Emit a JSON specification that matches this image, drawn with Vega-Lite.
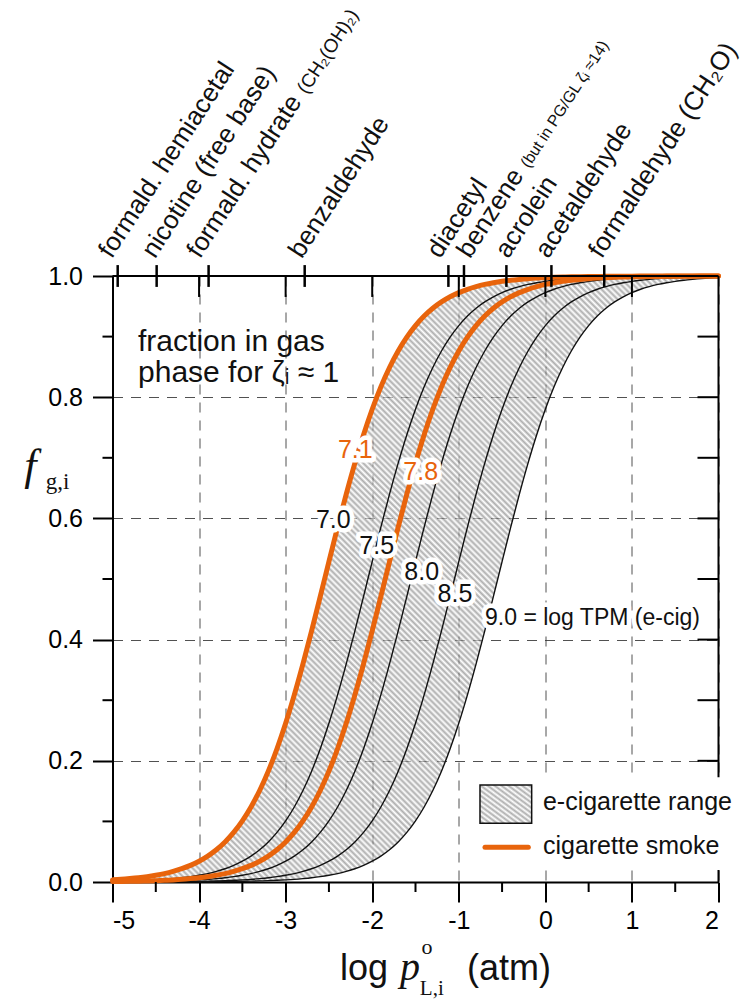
{
"$schema":"https://vega.github.io/schema/vega-lite/v6.json",
"width":606,"height":606,
"autosize":{"type":"none"},
"padding":{"left":112.5,"top":276,"right":36.5,"bottom":126},
"background":"white",
"config":{
 "font":"Liberation Sans",
 "view":{"stroke":null},
 "axis":{"domainColor":"#000","domainWidth":2,"tickColor":"#000","tickWidth":2,"labelColor":"#000","labelFontSize":25,"labelFont":"Liberation Sans","gridColor":"#333","gridDash":[10,8],"gridWidth":1,"gridOpacity":0.85}
},
"datasets":{
 "curves":[
{"x":-5,"c70":0.0035,"c75":0.0011,"c78":0.0007,"c80":0.0004,"c85":0.0001,"c90":0},
{"x":-4.9,"c70":0.0044,"c75":0.0014,"c78":0.0009,"c80":0.0004,"c85":0.0001,"c90":0},
{"x":-4.8,"c70":0.0056,"c75":0.0018,"c78":0.0011,"c80":0.0006,"c85":0.0002,"c90":0.0001},
{"x":-4.7,"c70":0.0070,"c75":0.0022,"c78":0.0014,"c80":0.0007,"c85":0.0002,"c90":0.0001},
{"x":-4.6,"c70":0.0088,"c75":0.0028,"c78":0.0018,"c80":0.0009,"c85":0.0003,"c90":0.0001},
{"x":-4.5,"c70":0.0111,"c75":0.0035,"c78":0.0022,"c80":0.0011,"c85":0.0004,"c90":0.0001},
{"x":-4.4,"c70":0.0139,"c75":0.0044,"c78":0.0028,"c80":0.0014,"c85":0.0004,"c90":0.0001},
{"x":-4.3,"c70":0.0175,"c75":0.0056,"c78":0.0035,"c80":0.0018,"c85":0.0006,"c90":0.0002},
{"x":-4.2,"c70":0.0219,"c75":0.0070,"c78":0.0044,"c80":0.0022,"c85":0.0007,"c90":0.0002},
{"x":-4.1,"c70":0.0274,"c75":0.0088,"c78":0.0056,"c80":0.0028,"c85":0.0009,"c90":0.0003},
{"x":-4.0,"c70":0.0343,"c75":0.0111,"c78":0.0070,"c80":0.0035,"c85":0.0011,"c90":0.0004},
{"x":-3.9,"c70":0.0428,"c75":0.0139,"c78":0.0088,"c80":0.0044,"c85":0.0014,"c90":0.0004},
{"x":-3.8,"c70":0.0532,"c75":0.0175,"c78":0.0111,"c80":0.0056,"c85":0.0018,"c90":0.0006},
{"x":-3.7,"c70":0.0661,"c75":0.0219,"c78":0.0139,"c80":0.0070,"c85":0.0022,"c90":0.0007},
{"x":-3.6,"c70":0.0818,"c75":0.0274,"c78":0.0175,"c80":0.0088,"c85":0.0028,"c90":0.0009},
{"x":-3.5,"c70":0.1009,"c75":0.0343,"c78":0.0219,"c80":0.0111,"c85":0.0035,"c90":0.0011},
{"x":-3.4,"c70":0.1238,"c75":0.0428,"c78":0.0274,"c80":0.0139,"c85":0.0044,"c90":0.0014},
{"x":-3.3,"c70":0.1510,"c75":0.0532,"c78":0.0343,"c80":0.0175,"c85":0.0056,"c90":0.0018},
{"x":-3.2,"c70":0.1829,"c75":0.0661,"c78":0.0428,"c80":0.0219,"c85":0.0070,"c90":0.0022},
{"x":-3.1,"c70":0.2199,"c75":0.0818,"c78":0.0532,"c80":0.0274,"c85":0.0088,"c90":0.0028},
{"x":-3.0,"c70":0.2619,"c75":0.1009,"c78":0.0661,"c80":0.0343,"c85":0.0111,"c90":0.0035},
{"x":-2.9,"c70":0.3088,"c75":0.1238,"c78":0.0818,"c80":0.0428,"c85":0.0139,"c90":0.0044},
{"x":-2.8,"c70":0.3599,"c75":0.1510,"c78":0.1009,"c80":0.0532,"c85":0.0175,"c90":0.0056},
{"x":-2.7,"c70":0.4145,"c75":0.1829,"c78":0.1238,"c80":0.0661,"c85":0.0219,"c90":0.0070},
{"x":-2.6,"c70":0.4712,"c75":0.2199,"c78":0.1510,"c80":0.0818,"c85":0.0274,"c90":0.0088},
{"x":-2.5,"c70":0.5288,"c75":0.2619,"c78":0.1829,"c80":0.1009,"c85":0.0343,"c90":0.0111},
{"x":-2.4,"c70":0.5855,"c75":0.3088,"c78":0.2199,"c80":0.1238,"c85":0.0428,"c90":0.0139},
{"x":-2.3,"c70":0.6401,"c75":0.3599,"c78":0.2619,"c80":0.1510,"c85":0.0532,"c90":0.0175},
{"x":-2.2,"c70":0.6912,"c75":0.4145,"c78":0.3088,"c80":0.1829,"c85":0.0661,"c90":0.0219},
{"x":-2.1,"c70":0.7381,"c75":0.4712,"c78":0.3599,"c80":0.2199,"c85":0.0818,"c90":0.0274},
{"x":-2.0,"c70":0.7801,"c75":0.5288,"c78":0.4145,"c80":0.2619,"c85":0.1009,"c90":0.0343},
{"x":-1.9,"c70":0.8171,"c75":0.5855,"c78":0.4712,"c80":0.3088,"c85":0.1238,"c90":0.0428},
{"x":-1.8,"c70":0.8490,"c75":0.6401,"c78":0.5288,"c80":0.3599,"c85":0.1510,"c90":0.0532},
{"x":-1.7,"c70":0.8762,"c75":0.6912,"c78":0.5855,"c80":0.4145,"c85":0.1829,"c90":0.0661},
{"x":-1.6,"c70":0.8991,"c75":0.7381,"c78":0.6401,"c80":0.4712,"c85":0.2199,"c90":0.0818},
{"x":-1.5,"c70":0.9182,"c75":0.7801,"c78":0.6912,"c80":0.5288,"c85":0.2619,"c90":0.1009},
{"x":-1.4,"c70":0.9339,"c75":0.8171,"c78":0.7381,"c80":0.5855,"c85":0.3088,"c90":0.1238},
{"x":-1.3,"c70":0.9468,"c75":0.8490,"c78":0.7801,"c80":0.6401,"c85":0.3599,"c90":0.1510},
{"x":-1.2,"c70":0.9572,"c75":0.8762,"c78":0.8171,"c80":0.6912,"c85":0.4145,"c90":0.1829},
{"x":-1.1,"c70":0.9657,"c75":0.8991,"c78":0.8490,"c80":0.7381,"c85":0.4712,"c90":0.2199},
{"x":-1.0,"c70":0.9726,"c75":0.9182,"c78":0.8762,"c80":0.7801,"c85":0.5288,"c90":0.2619},
{"x":-0.9,"c70":0.9781,"c75":0.9339,"c78":0.8991,"c80":0.8171,"c85":0.5855,"c90":0.3088},
{"x":-0.8,"c70":0.9825,"c75":0.9468,"c78":0.9182,"c80":0.8490,"c85":0.6401,"c90":0.3599},
{"x":-0.7,"c70":0.9861,"c75":0.9572,"c78":0.9339,"c80":0.8762,"c85":0.6912,"c90":0.4145},
{"x":-0.6,"c70":0.9889,"c75":0.9657,"c78":0.9468,"c80":0.8991,"c85":0.7381,"c90":0.4712},
{"x":-0.5,"c70":0.9912,"c75":0.9726,"c78":0.9572,"c80":0.9182,"c85":0.7801,"c90":0.5288},
{"x":-0.4,"c70":0.9930,"c75":0.9781,"c78":0.9657,"c80":0.9339,"c85":0.8171,"c90":0.5855},
{"x":-0.3,"c70":0.9944,"c75":0.9825,"c78":0.9726,"c80":0.9468,"c85":0.8490,"c90":0.6401},
{"x":-0.2,"c70":0.9956,"c75":0.9861,"c78":0.9781,"c80":0.9572,"c85":0.8762,"c90":0.6912},
{"x":-0.1,"c70":0.9965,"c75":0.9889,"c78":0.9825,"c80":0.9657,"c85":0.8991,"c90":0.7381},
{"x":0.0,"c70":0.9972,"c75":0.9912,"c78":0.9861,"c80":0.9726,"c85":0.9182,"c90":0.7801},
{"x":0.1,"c70":0.9978,"c75":0.9930,"c78":0.9889,"c80":0.9781,"c85":0.9339,"c90":0.8171},
{"x":0.2,"c70":0.9982,"c75":0.9944,"c78":0.9912,"c80":0.9825,"c85":0.9468,"c90":0.8490},
{"x":0.3,"c70":0.9986,"c75":0.9956,"c78":0.9930,"c80":0.9861,"c85":0.9572,"c90":0.8762},
{"x":0.4,"c70":0.9989,"c75":0.9965,"c78":0.9944,"c80":0.9889,"c85":0.9657,"c90":0.8991},
{"x":0.5,"c70":0.9991,"c75":0.9972,"c78":0.9956,"c80":0.9912,"c85":0.9726,"c90":0.9182},
{"x":0.6,"c70":0.9993,"c75":0.9978,"c78":0.9965,"c80":0.9930,"c85":0.9781,"c90":0.9339},
{"x":0.7,"c70":0.9994,"c75":0.9982,"c78":0.9972,"c80":0.9944,"c85":0.9825,"c90":0.9468},
{"x":0.8,"c70":0.9996,"c75":0.9986,"c78":0.9978,"c80":0.9956,"c85":0.9861,"c90":0.9572},
{"x":0.9,"c70":0.9996,"c75":0.9989,"c78":0.9982,"c80":0.9965,"c85":0.9889,"c90":0.9657},
{"x":1.0,"c70":0.9997,"c75":0.9991,"c78":0.9986,"c80":0.9972,"c85":0.9912,"c90":0.9726},
{"x":1.1,"c70":0.9998,"c75":0.9993,"c78":0.9989,"c80":0.9978,"c85":0.9930,"c90":0.9781},
{"x":1.2,"c70":0.9998,"c75":0.9994,"c78":0.9991,"c80":0.9982,"c85":0.9944,"c90":0.9825},
{"x":1.3,"c70":0.9999,"c75":0.9996,"c78":0.9993,"c80":0.9986,"c85":0.9956,"c90":0.9861},
{"x":1.4,"c70":0.9999,"c75":0.9996,"c78":0.9994,"c80":0.9989,"c85":0.9965,"c90":0.9889},
{"x":1.5,"c70":0.9999,"c75":0.9997,"c78":0.9996,"c80":0.9991,"c85":0.9972,"c90":0.9912},
{"x":1.6,"c70":0.9999,"c75":0.9998,"c78":0.9996,"c80":0.9993,"c85":0.9978,"c90":0.9930},
{"x":1.7,"c70":0.9999,"c75":0.9998,"c78":0.9997,"c80":0.9994,"c85":0.9982,"c90":0.9944},
{"x":1.8,"c70":1,"c75":0.9999,"c78":0.9998,"c80":0.9996,"c85":0.9986,"c90":0.9956},
{"x":1.9,"c70":1,"c75":0.9999,"c78":0.9998,"c80":0.9996,"c85":0.9989,"c90":0.9965},
{"x":2.0,"c70":1,"c75":0.9999,"c78":0.9999,"c80":0.9997,"c85":0.9991,"c90":0.9972}
 ],
 "curveLabels":[
  {"x":-2.195,"y":0.7125,"label":"7.1","source":"cigarette"},
  {"x":-1.44,"y":0.6767,"label":"7.8","source":"cigarette"},
  {"x":-2.449,"y":0.597,"label":"7.0","source":"e-cigarette"},
  {"x":-1.948,"y":0.5547,"label":"7.5","source":"e-cigarette"},
  {"x":-1.428,"y":0.5118,"label":"8.0","source":"e-cigarette"},
  {"x":-1.044,"y":0.475,"label":"8.5","source":"e-cigarette"}
 ],
 "compounds":[
  {"x":-4.94,"lx":-4.969,"name":"formald. hemiacetal"},
  {"x":-4.49,"lx":-4.469,"name":"nicotine (free base)"},
  {"x":-3.89,"lx":-3.949,"name":"formald. hydrate"},
  {"x":-2.78,"lx":-2.774,"name":"benzaldehyde"},
  {"x":-1.12,"lx":-1.176,"name":"diacetyl"},
  {"x":-0.94,"lx":-0.83,"name":"benzene"},
  {"x":-0.45,"lx":-0.388,"name":"acrolein"},
  {"x":0.07,"lx":0.075,"name":"acetaldehyde"},
  {"x":0.68,"lx":0.691,"name":"formaldehyde (CH₂O)"}
 ],
 "xMinor":[{"v":-4.5},{"v":-3.5},{"v":-2.5},{"v":-1.5},{"v":-0.5},{"v":0.5},{"v":1.5}],
 "xInner":[{"v":-4},{"v":-3},{"v":-2},{"v":-1},{"v":0},{"v":1}],
 "yMinor":[{"v":0.1},{"v":0.3},{"v":0.5},{"v":0.7},{"v":0.9}],
 "yRight":[{"v":0.1},{"v":0.2},{"v":0.3},{"v":0.4},{"v":0.5},{"v":0.6},{"v":0.7},{"v":0.8},{"v":0.9}]
},
"layer":[
 {"data":{"name":"curves"},
  "mark":{"type":"area","opacity":0.6,"interpolate":"monotone",
   "color":{"gradient":"linear","x1":0,"y1":1,"x2":1,"y2":0,"stops":[
{"offset":0,"color":"#fff"},{"offset":0.0025,"color":"#777"},{"offset":0.005,"color":"#fff"},{"offset":0.0075,"color":"#777"},
{"offset":0.01,"color":"#fff"},{"offset":0.0125,"color":"#777"},{"offset":0.015,"color":"#fff"},{"offset":0.0175,"color":"#777"},
{"offset":0.02,"color":"#fff"},{"offset":0.0225,"color":"#777"},{"offset":0.025,"color":"#fff"},{"offset":0.0275,"color":"#777"},
{"offset":0.03,"color":"#fff"},{"offset":0.0325,"color":"#777"},{"offset":0.035,"color":"#fff"},{"offset":0.0375,"color":"#777"},
{"offset":0.04,"color":"#fff"},{"offset":0.0425,"color":"#777"},{"offset":0.045,"color":"#fff"},{"offset":0.0475,"color":"#777"},
{"offset":0.05,"color":"#fff"},{"offset":0.0525,"color":"#777"},{"offset":0.055,"color":"#fff"},{"offset":0.0575,"color":"#777"},
{"offset":0.06,"color":"#fff"},{"offset":0.0625,"color":"#777"},{"offset":0.065,"color":"#fff"},{"offset":0.0675,"color":"#777"},
{"offset":0.07,"color":"#fff"},{"offset":0.0725,"color":"#777"},{"offset":0.075,"color":"#fff"},{"offset":0.0775,"color":"#777"},
{"offset":0.08,"color":"#fff"},{"offset":0.0825,"color":"#777"},{"offset":0.085,"color":"#fff"},{"offset":0.0875,"color":"#777"},
{"offset":0.09,"color":"#fff"},{"offset":0.0925,"color":"#777"},{"offset":0.095,"color":"#fff"},{"offset":0.0975,"color":"#777"},
{"offset":0.1,"color":"#fff"},{"offset":0.1025,"color":"#777"},{"offset":0.105,"color":"#fff"},{"offset":0.1075,"color":"#777"},
{"offset":0.11,"color":"#fff"},{"offset":0.1125,"color":"#777"},{"offset":0.115,"color":"#fff"},{"offset":0.1175,"color":"#777"},
{"offset":0.12,"color":"#fff"},{"offset":0.1225,"color":"#777"},{"offset":0.125,"color":"#fff"},{"offset":0.1275,"color":"#777"},
{"offset":0.13,"color":"#fff"},{"offset":0.1325,"color":"#777"},{"offset":0.135,"color":"#fff"},{"offset":0.1375,"color":"#777"},
{"offset":0.14,"color":"#fff"},{"offset":0.1425,"color":"#777"},{"offset":0.145,"color":"#fff"},{"offset":0.1475,"color":"#777"},
{"offset":0.15,"color":"#fff"},{"offset":0.1525,"color":"#777"},{"offset":0.155,"color":"#fff"},{"offset":0.1575,"color":"#777"},
{"offset":0.16,"color":"#fff"},{"offset":0.1625,"color":"#777"},{"offset":0.165,"color":"#fff"},{"offset":0.1675,"color":"#777"},
{"offset":0.17,"color":"#fff"},{"offset":0.1725,"color":"#777"},{"offset":0.175,"color":"#fff"},{"offset":0.1775,"color":"#777"},
{"offset":0.18,"color":"#fff"},{"offset":0.1825,"color":"#777"},{"offset":0.185,"color":"#fff"},{"offset":0.1875,"color":"#777"},
{"offset":0.19,"color":"#fff"},{"offset":0.1925,"color":"#777"},{"offset":0.195,"color":"#fff"},{"offset":0.1975,"color":"#777"},
{"offset":0.2,"color":"#fff"},{"offset":0.2025,"color":"#777"},{"offset":0.205,"color":"#fff"},{"offset":0.2075,"color":"#777"},
{"offset":0.21,"color":"#fff"},{"offset":0.2125,"color":"#777"},{"offset":0.215,"color":"#fff"},{"offset":0.2175,"color":"#777"},
{"offset":0.22,"color":"#fff"},{"offset":0.2225,"color":"#777"},{"offset":0.225,"color":"#fff"},{"offset":0.2275,"color":"#777"},
{"offset":0.23,"color":"#fff"},{"offset":0.2325,"color":"#777"},{"offset":0.235,"color":"#fff"},{"offset":0.2375,"color":"#777"},
{"offset":0.24,"color":"#fff"},{"offset":0.2425,"color":"#777"},{"offset":0.245,"color":"#fff"},{"offset":0.2475,"color":"#777"},
{"offset":0.25,"color":"#fff"},{"offset":0.2525,"color":"#777"},{"offset":0.255,"color":"#fff"},{"offset":0.2575,"color":"#777"},
{"offset":0.26,"color":"#fff"},{"offset":0.2625,"color":"#777"},{"offset":0.265,"color":"#fff"},{"offset":0.2675,"color":"#777"},
{"offset":0.27,"color":"#fff"},{"offset":0.2725,"color":"#777"},{"offset":0.275,"color":"#fff"},{"offset":0.2775,"color":"#777"},
{"offset":0.28,"color":"#fff"},{"offset":0.2825,"color":"#777"},{"offset":0.285,"color":"#fff"},{"offset":0.2875,"color":"#777"},
{"offset":0.29,"color":"#fff"},{"offset":0.2925,"color":"#777"},{"offset":0.295,"color":"#fff"},{"offset":0.2975,"color":"#777"},
{"offset":0.3,"color":"#fff"},{"offset":0.3025,"color":"#777"},{"offset":0.305,"color":"#fff"},{"offset":0.3075,"color":"#777"},
{"offset":0.31,"color":"#fff"},{"offset":0.3125,"color":"#777"},{"offset":0.315,"color":"#fff"},{"offset":0.3175,"color":"#777"},
{"offset":0.32,"color":"#fff"},{"offset":0.3225,"color":"#777"},{"offset":0.325,"color":"#fff"},{"offset":0.3275,"color":"#777"},
{"offset":0.33,"color":"#fff"},{"offset":0.3325,"color":"#777"},{"offset":0.335,"color":"#fff"},{"offset":0.3375,"color":"#777"},
{"offset":0.34,"color":"#fff"},{"offset":0.3425,"color":"#777"},{"offset":0.345,"color":"#fff"},{"offset":0.3475,"color":"#777"},
{"offset":0.35,"color":"#fff"},{"offset":0.3525,"color":"#777"},{"offset":0.355,"color":"#fff"},{"offset":0.3575,"color":"#777"},
{"offset":0.36,"color":"#fff"},{"offset":0.3625,"color":"#777"},{"offset":0.365,"color":"#fff"},{"offset":0.3675,"color":"#777"},
{"offset":0.37,"color":"#fff"},{"offset":0.3725,"color":"#777"},{"offset":0.375,"color":"#fff"},{"offset":0.3775,"color":"#777"},
{"offset":0.38,"color":"#fff"},{"offset":0.3825,"color":"#777"},{"offset":0.385,"color":"#fff"},{"offset":0.3875,"color":"#777"},
{"offset":0.39,"color":"#fff"},{"offset":0.3925,"color":"#777"},{"offset":0.395,"color":"#fff"},{"offset":0.3975,"color":"#777"},
{"offset":0.4,"color":"#fff"},{"offset":0.4025,"color":"#777"},{"offset":0.405,"color":"#fff"},{"offset":0.4075,"color":"#777"},
{"offset":0.41,"color":"#fff"},{"offset":0.4125,"color":"#777"},{"offset":0.415,"color":"#fff"},{"offset":0.4175,"color":"#777"},
{"offset":0.42,"color":"#fff"},{"offset":0.4225,"color":"#777"},{"offset":0.425,"color":"#fff"},{"offset":0.4275,"color":"#777"},
{"offset":0.43,"color":"#fff"},{"offset":0.4325,"color":"#777"},{"offset":0.435,"color":"#fff"},{"offset":0.4375,"color":"#777"},
{"offset":0.44,"color":"#fff"},{"offset":0.4425,"color":"#777"},{"offset":0.445,"color":"#fff"},{"offset":0.4475,"color":"#777"},
{"offset":0.45,"color":"#fff"},{"offset":0.4525,"color":"#777"},{"offset":0.455,"color":"#fff"},{"offset":0.4575,"color":"#777"},
{"offset":0.46,"color":"#fff"},{"offset":0.4625,"color":"#777"},{"offset":0.465,"color":"#fff"},{"offset":0.4675,"color":"#777"},
{"offset":0.47,"color":"#fff"},{"offset":0.4725,"color":"#777"},{"offset":0.475,"color":"#fff"},{"offset":0.4775,"color":"#777"},
{"offset":0.48,"color":"#fff"},{"offset":0.4825,"color":"#777"},{"offset":0.485,"color":"#fff"},{"offset":0.4875,"color":"#777"},
{"offset":0.49,"color":"#fff"},{"offset":0.4925,"color":"#777"},{"offset":0.495,"color":"#fff"},{"offset":0.4975,"color":"#777"},
{"offset":0.5,"color":"#fff"},{"offset":0.5025,"color":"#777"},{"offset":0.505,"color":"#fff"},{"offset":0.5075,"color":"#777"},
{"offset":0.51,"color":"#fff"},{"offset":0.5125,"color":"#777"},{"offset":0.515,"color":"#fff"},{"offset":0.5175,"color":"#777"},
{"offset":0.52,"color":"#fff"},{"offset":0.5225,"color":"#777"},{"offset":0.525,"color":"#fff"},{"offset":0.5275,"color":"#777"},
{"offset":0.53,"color":"#fff"},{"offset":0.5325,"color":"#777"},{"offset":0.535,"color":"#fff"},{"offset":0.5375,"color":"#777"},
{"offset":0.54,"color":"#fff"},{"offset":0.5425,"color":"#777"},{"offset":0.545,"color":"#fff"},{"offset":0.5475,"color":"#777"},
{"offset":0.55,"color":"#fff"},{"offset":0.5525,"color":"#777"},{"offset":0.555,"color":"#fff"},{"offset":0.5575,"color":"#777"},
{"offset":0.56,"color":"#fff"},{"offset":0.5625,"color":"#777"},{"offset":0.565,"color":"#fff"},{"offset":0.5675,"color":"#777"},
{"offset":0.57,"color":"#fff"},{"offset":0.5725,"color":"#777"},{"offset":0.575,"color":"#fff"},{"offset":0.5775,"color":"#777"},
{"offset":0.58,"color":"#fff"},{"offset":0.5825,"color":"#777"},{"offset":0.585,"color":"#fff"},{"offset":0.5875,"color":"#777"},
{"offset":0.59,"color":"#fff"},{"offset":0.5925,"color":"#777"},{"offset":0.595,"color":"#fff"},{"offset":0.5975,"color":"#777"},
{"offset":0.6,"color":"#fff"},{"offset":0.6025,"color":"#777"},{"offset":0.605,"color":"#fff"},{"offset":0.6075,"color":"#777"},
{"offset":0.61,"color":"#fff"},{"offset":0.6125,"color":"#777"},{"offset":0.615,"color":"#fff"},{"offset":0.6175,"color":"#777"},
{"offset":0.62,"color":"#fff"},{"offset":0.6225,"color":"#777"},{"offset":0.625,"color":"#fff"},{"offset":0.6275,"color":"#777"},
{"offset":0.63,"color":"#fff"},{"offset":0.6325,"color":"#777"},{"offset":0.635,"color":"#fff"},{"offset":0.6375,"color":"#777"},
{"offset":0.64,"color":"#fff"},{"offset":0.6425,"color":"#777"},{"offset":0.645,"color":"#fff"},{"offset":0.6475,"color":"#777"},
{"offset":0.65,"color":"#fff"},{"offset":0.6525,"color":"#777"},{"offset":0.655,"color":"#fff"},{"offset":0.6575,"color":"#777"},
{"offset":0.66,"color":"#fff"},{"offset":0.6625,"color":"#777"},{"offset":0.665,"color":"#fff"},{"offset":0.6675,"color":"#777"},
{"offset":0.67,"color":"#fff"},{"offset":0.6725,"color":"#777"},{"offset":0.675,"color":"#fff"},{"offset":0.6775,"color":"#777"},
{"offset":0.68,"color":"#fff"},{"offset":0.6825,"color":"#777"},{"offset":0.685,"color":"#fff"},{"offset":0.6875,"color":"#777"},
{"offset":0.69,"color":"#fff"},{"offset":0.6925,"color":"#777"},{"offset":0.695,"color":"#fff"},{"offset":0.6975,"color":"#777"},
{"offset":0.7,"color":"#fff"},{"offset":0.7025,"color":"#777"},{"offset":0.705,"color":"#fff"},{"offset":0.7075,"color":"#777"},
{"offset":0.71,"color":"#fff"},{"offset":0.7125,"color":"#777"},{"offset":0.715,"color":"#fff"},{"offset":0.7175,"color":"#777"},
{"offset":0.72,"color":"#fff"},{"offset":0.7225,"color":"#777"},{"offset":0.725,"color":"#fff"},{"offset":0.7275,"color":"#777"},
{"offset":0.73,"color":"#fff"},{"offset":0.7325,"color":"#777"},{"offset":0.735,"color":"#fff"},{"offset":0.7375,"color":"#777"},
{"offset":0.74,"color":"#fff"},{"offset":0.7425,"color":"#777"},{"offset":0.745,"color":"#fff"},{"offset":0.7475,"color":"#777"},
{"offset":0.75,"color":"#fff"},{"offset":0.7525,"color":"#777"},{"offset":0.755,"color":"#fff"},{"offset":0.7575,"color":"#777"},
{"offset":0.76,"color":"#fff"},{"offset":0.7625,"color":"#777"},{"offset":0.765,"color":"#fff"},{"offset":0.7675,"color":"#777"},
{"offset":0.77,"color":"#fff"},{"offset":0.7725,"color":"#777"},{"offset":0.775,"color":"#fff"},{"offset":0.7775,"color":"#777"},
{"offset":0.78,"color":"#fff"},{"offset":0.7825,"color":"#777"},{"offset":0.785,"color":"#fff"},{"offset":0.7875,"color":"#777"},
{"offset":0.79,"color":"#fff"},{"offset":0.7925,"color":"#777"},{"offset":0.795,"color":"#fff"},{"offset":0.7975,"color":"#777"},
{"offset":0.8,"color":"#fff"},{"offset":0.8025,"color":"#777"},{"offset":0.805,"color":"#fff"},{"offset":0.8075,"color":"#777"},
{"offset":0.81,"color":"#fff"},{"offset":0.8125,"color":"#777"},{"offset":0.815,"color":"#fff"},{"offset":0.8175,"color":"#777"},
{"offset":0.82,"color":"#fff"},{"offset":0.8225,"color":"#777"},{"offset":0.825,"color":"#fff"},{"offset":0.8275,"color":"#777"},
{"offset":0.83,"color":"#fff"},{"offset":0.8325,"color":"#777"},{"offset":0.835,"color":"#fff"},{"offset":0.8375,"color":"#777"},
{"offset":0.84,"color":"#fff"},{"offset":0.8425,"color":"#777"},{"offset":0.845,"color":"#fff"},{"offset":0.8475,"color":"#777"},
{"offset":0.85,"color":"#fff"},{"offset":0.8525,"color":"#777"},{"offset":0.855,"color":"#fff"},{"offset":0.8575,"color":"#777"},
{"offset":0.86,"color":"#fff"},{"offset":0.8625,"color":"#777"},{"offset":0.865,"color":"#fff"},{"offset":0.8675,"color":"#777"},
{"offset":0.87,"color":"#fff"},{"offset":0.8725,"color":"#777"},{"offset":0.875,"color":"#fff"},{"offset":0.8775,"color":"#777"},
{"offset":0.88,"color":"#fff"},{"offset":0.8825,"color":"#777"},{"offset":0.885,"color":"#fff"},{"offset":0.8875,"color":"#777"},
{"offset":0.89,"color":"#fff"},{"offset":0.8925,"color":"#777"},{"offset":0.895,"color":"#fff"},{"offset":0.8975,"color":"#777"},
{"offset":0.9,"color":"#fff"},{"offset":0.9025,"color":"#777"},{"offset":0.905,"color":"#fff"},{"offset":0.9075,"color":"#777"},
{"offset":0.91,"color":"#fff"},{"offset":0.9125,"color":"#777"},{"offset":0.915,"color":"#fff"},{"offset":0.9175,"color":"#777"},
{"offset":0.92,"color":"#fff"},{"offset":0.9225,"color":"#777"},{"offset":0.925,"color":"#fff"},{"offset":0.9275,"color":"#777"},
{"offset":0.93,"color":"#fff"},{"offset":0.9325,"color":"#777"},{"offset":0.935,"color":"#fff"},{"offset":0.9375,"color":"#777"},
{"offset":0.94,"color":"#fff"},{"offset":0.9425,"color":"#777"},{"offset":0.945,"color":"#fff"},{"offset":0.9475,"color":"#777"},
{"offset":0.95,"color":"#fff"},{"offset":0.9525,"color":"#777"},{"offset":0.955,"color":"#fff"},{"offset":0.9575,"color":"#777"},
{"offset":0.96,"color":"#fff"},{"offset":0.9625,"color":"#777"},{"offset":0.965,"color":"#fff"},{"offset":0.9675,"color":"#777"},
{"offset":0.97,"color":"#fff"},{"offset":0.9725,"color":"#777"},{"offset":0.975,"color":"#fff"},{"offset":0.9775,"color":"#777"},
{"offset":0.98,"color":"#fff"},{"offset":0.9825,"color":"#777"},{"offset":0.985,"color":"#fff"},{"offset":0.9875,"color":"#777"},
{"offset":0.99,"color":"#fff"},{"offset":0.9925,"color":"#777"},{"offset":0.995,"color":"#fff"},{"offset":0.9975,"color":"#777"},
{"offset":1,"color":"#fff"}
   ]}},
  "encoding":{
   "x":{"field":"x","type":"quantitative","scale":{"domain":[-5,2],"nice":false,"zero":false},
        "axis":{"values":[-5,-4,-3,-2,-1,0,1,2],"tickSize":20,"labelPadding":6,"labelExpr":"'' + datum.value","title":null,"grid":true}},
   "y":{"field":"c90","type":"quantitative","scale":{"domain":[0,1],"nice":false,"zero":false},
        "axis":{"values":[0,0.2,0.4,0.6,0.8,1],"format":".1f","tickSize":20,"labelPadding":10,"title":null,"grid":true}},
   "y2":{"field":"c70"}
  }},
 {"data":{"name":"curves"},
  "transform":[{"fold":["c70","c75","c80","c85","c90"],"as":["curve","f"]}],
  "mark":{"type":"line","color":"#111","strokeWidth":1.4,"interpolate":"monotone"},
  "encoding":{"x":{"field":"x","type":"quantitative"},"y":{"field":"f","type":"quantitative"},"detail":{"field":"curve"}}},
 {"data":{"name":"curves"},
  "transform":[{"fold":["c70","c78"],"as":["curve","f"]}],
  "mark":{"type":"line","color":"#E8640C","strokeWidth":5,"interpolate":"monotone","strokeCap":"round"},
  "encoding":{"x":{"field":"x","type":"quantitative"},"y":{"field":"f","type":"quantitative"},"detail":{"field":"curve"}}},
 {"data":{"name":"curveLabels"},
  "mark":{"type":"text","fontSize":25,"align":"center","baseline":"middle","fill":"white","stroke":"white","strokeWidth":9,"strokeJoin":"round"},
  "encoding":{"x":{"field":"x","type":"quantitative"},"y":{"field":"y","type":"quantitative"},"text":{"field":"label"}}},
 {"data":{"name":"curveLabels"},
  "mark":{"type":"text","fontSize":25,"align":"center","baseline":"middle"},
  "encoding":{"x":{"field":"x","type":"quantitative"},"y":{"field":"y","type":"quantitative"},"text":{"field":"label"},
   "color":{"field":"source","type":"nominal","scale":{"domain":["e-cigarette","cigarette"],"range":["#111","#E8640C"]},"legend":null}}},
 {"data":{"values":[{}]},
  "mark":{"type":"text","text":"9.0 = log TPM (e-cig)","fontSize":23,"align":"left","baseline":"middle","fill":"white","stroke":"white","strokeWidth":9,"strokeJoin":"round"},
  "encoding":{"x":{"datum":-0.697},"y":{"datum":0.4355}}},
 {"data":{"values":[{}]},
  "mark":{"type":"text","text":"9.0 = log TPM (e-cig)","fontSize":23,"align":"left","baseline":"middle","color":"#111"},
  "encoding":{"x":{"datum":-0.697},"y":{"datum":0.4355}}},
 {"data":{"values":[{}]},
  "mark":{"type":"text","text":["fraction in gas","phase for ζᵢ ≈ 1"],"fontSize":30,"lineHeight":31,"align":"left","baseline":"alphabetic","color":"#111"},
  "encoding":{"x":{"datum":-4.705},"y":{"datum":0.8763}}},
 {"data":{"name":"xMinor"},
  "mark":{"type":"rule","color":"#000","strokeWidth":2},
  "encoding":{"x":{"field":"v","type":"quantitative"},"y":{"datum":0},"y2":{"datum":-0.0165}}},
 {"data":{"name":"yMinor"},
  "mark":{"type":"rule","color":"#000","strokeWidth":2},
  "encoding":{"y":{"field":"v","type":"quantitative"},"x":{"datum":-5},"x2":{"datum":-5.1155}}},
 {"data":{"values":[{}]},
  "mark":{"type":"rule","color":"#000","strokeWidth":2},
  "encoding":{"x":{"datum":2},"y":{"datum":0},"y2":{"datum":1}}},
 {"data":{"name":"yRight"},
  "mark":{"type":"rule","color":"#000","strokeWidth":2},
  "encoding":{"y":{"field":"v","type":"quantitative"},"x":{"datum":2},"x2":{"datum":1.7574}}},
 {"data":{"values":[{}]},
  "mark":{"type":"rule","color":"#000","strokeWidth":2},
  "encoding":{"y":{"datum":1},"x":{"datum":-5},"x2":{"datum":2}}},
 {"data":{"name":"xInner"},
  "mark":{"type":"rule","color":"#000","strokeWidth":2},
  "encoding":{"x":{"field":"v","type":"quantitative"},"y":{"datum":1},"y2":{"datum":0.9654}}},
 {"data":{"name":"compounds"},
  "mark":{"type":"rule","color":"#000","strokeWidth":2.5},
  "encoding":{"x":{"field":"x","type":"quantitative"},"y":{"datum":0.982},"y2":{"datum":1.018}}},
 {"data":{"name":"compounds"},
  "mark":{"type":"text","fontSize":26,"angle":-57,"align":"left","baseline":"alphabetic","dx":12,"dy":-12,"color":"#111"},
  "encoding":{"x":{"field":"lx","type":"quantitative"},"y":{"datum":1},"text":{"field":"name"}}},
 {"data":{"values":[{}]},
  "mark":{"type":"text","text":"(CH₂(OH)₂)","fontSize":19,"angle":-57,"align":"left","baseline":"alphabetic","dx":208,"dy":-12,"color":"#111"},
  "encoding":{"x":{"datum":-3.949},"y":{"datum":1}}},
 {"data":{"values":[{}]},
  "mark":{"type":"text","text":"(but in PG/GL ζᵢ ≈14)","fontSize":16,"angle":-57,"align":"left","baseline":"alphabetic","dx":120,"dy":-12,"color":"#111"},
  "encoding":{"x":{"datum":-0.83},"y":{"datum":1}}},
 {"data":{"values":[{}]},
  "mark":{"type":"rect","color":"white"},
  "encoding":{"x":{"datum":-0.93},"x2":{"datum":2.19},"y":{"datum":0.02},"y2":{"datum":0.173}}},
 {"data":{"values":[{}]},
  "mark":{"type":"rect","fill":"white"},
  "encoding":{"x":{"datum":-0.755},"x2":{"datum":-0.158},"y":{"datum":0.0968},"y2":{"datum":0.16}}},
 {"data":{"values":[{}]},
  "mark":{"type":"rect","fillOpacity":0.6,"stroke":"#111","strokeWidth":1.5,
   "fill":{"gradient":"linear","x1":0,"y1":1,"x2":1,"y2":0,"stops":[
{"offset":0,"color":"#fff"},{"offset":0.0333,"color":"#777"},{"offset":0.0667,"color":"#fff"},{"offset":0.1,"color":"#777"},
{"offset":0.1333,"color":"#fff"},{"offset":0.1667,"color":"#777"},{"offset":0.2,"color":"#fff"},{"offset":0.2333,"color":"#777"},
{"offset":0.2667,"color":"#fff"},{"offset":0.3,"color":"#777"},{"offset":0.3333,"color":"#fff"},{"offset":0.3667,"color":"#777"},
{"offset":0.4,"color":"#fff"},{"offset":0.4333,"color":"#777"},{"offset":0.4667,"color":"#fff"},{"offset":0.5,"color":"#777"},
{"offset":0.5333,"color":"#fff"},{"offset":0.5667,"color":"#777"},{"offset":0.6,"color":"#fff"},{"offset":0.6333,"color":"#777"},
{"offset":0.6667,"color":"#fff"},{"offset":0.7,"color":"#777"},{"offset":0.7333,"color":"#fff"},{"offset":0.7667,"color":"#777"},
{"offset":0.8,"color":"#fff"},{"offset":0.8333,"color":"#777"},{"offset":0.8667,"color":"#fff"},{"offset":0.9,"color":"#777"},
{"offset":0.9333,"color":"#fff"},{"offset":0.9667,"color":"#777"},{"offset":1,"color":"#fff"}
   ]}},
  "encoding":{"x":{"datum":-0.755},"x2":{"datum":-0.158},"y":{"datum":0.0968},"y2":{"datum":0.16}}},
 {"data":{"values":[{}]},
  "mark":{"type":"rule","color":"#E8640C","strokeWidth":5,"strokeCap":"round"},
  "encoding":{"x":{"datum":-0.697},"x2":{"datum":-0.197},"y":{"datum":0.0572}}},
 {"data":{"values":[{}]},
  "mark":{"type":"text","text":"e-cigarette range","fontSize":25,"align":"left","baseline":"middle","color":"#111"},
  "encoding":{"x":{"datum":-0.028},"y":{"datum":0.1325}}},
 {"data":{"values":[{}]},
  "mark":{"type":"text","text":"cigarette smoke","fontSize":25,"align":"left","baseline":"middle","color":"#111"},
  "encoding":{"x":{"datum":-0.028},"y":{"datum":0.0594}}},
 {"data":{"values":[{}]},
  "mark":{"type":"text","text":"log","fontSize":36,"align":"left","baseline":"alphabetic","color":"#111"},
  "encoding":{"x":{"datum":-2.372},"y":{"datum":-0.162}}},
 {"data":{"values":[{}]},
  "mark":{"type":"text","text":"p","font":"Liberation Serif","fontStyle":"italic","fontSize":40,"align":"left","baseline":"alphabetic","color":"#111"},
  "encoding":{"x":{"datum":-1.68},"y":{"datum":-0.162}}},
 {"data":{"values":[{}]},
  "mark":{"type":"text","text":"o","font":"Liberation Serif","fontSize":22,"align":"left","baseline":"alphabetic","color":"#111"},
  "encoding":{"x":{"datum":-1.43},"y":{"datum":-0.118}}},
 {"data":{"values":[{}]},
  "mark":{"type":"text","text":"L,i","font":"Liberation Serif","fontSize":21,"align":"left","baseline":"alphabetic","color":"#111"},
  "encoding":{"x":{"datum":-1.45},"y":{"datum":-0.186}}},
 {"data":{"values":[{}]},
  "mark":{"type":"text","text":"(atm)","fontSize":36,"align":"left","baseline":"alphabetic","color":"#111"},
  "encoding":{"x":{"datum":-0.905},"y":{"datum":-0.162}}},
 {"data":{"values":[{}]},
  "mark":{"type":"text","text":"f","font":"Liberation Serif","fontStyle":"italic","fontSize":44,"align":"left","baseline":"alphabetic","color":"#111"},
  "encoding":{"x":{"datum":-6.02},"y":{"datum":0.664}}},
 {"data":{"values":[{}]},
  "mark":{"type":"text","text":"g,i","font":"Liberation Serif","fontSize":23,"align":"left","baseline":"alphabetic","color":"#111"},
  "encoding":{"x":{"datum":-5.77},"y":{"datum":0.648}}}
]
}
